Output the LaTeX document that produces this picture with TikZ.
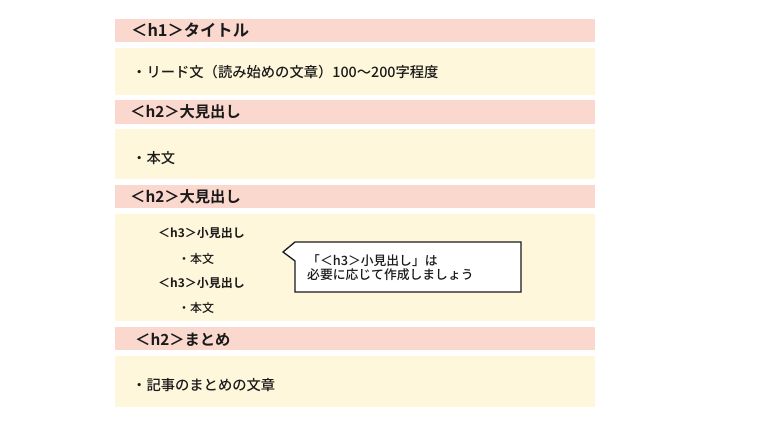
\documentclass[tikz,border=0pt]{standalone}
\usepackage{fontspec}
\newfontfamily\jpb{Noto Sans CJK JP Bold}
\newfontfamily\jpm{Noto Sans CJK JP Medium}
\definecolor{pinkbar}{HTML}{FBD8CE}
\definecolor{creambox}{HTML}{FEF7DC}
\definecolor{inkc}{HTML}{1A1A1A}
\begin{document}
\begin{tikzpicture}[x=1pt,y=-1pt,
  hbar/.style={fill=pinkbar},
  cbox/.style={fill=creambox},
  txt/.style={anchor=west,inner sep=0pt,text=inkc,text height=0.86em,text depth=0.12em},
  hone/.style={txt,font=\jpb\fontsize{16.3}{18}\selectfont},
  htwo/.style={txt,font=\jpb\fontsize{15.3}{18}\selectfont},
  hthree/.style={txt,font=\jpb\fontsize{12}{14}\selectfont},
  body/.style={txt,font=\jpm\fontsize{14.3}{16}\selectfont},
  smallbody/.style={txt,font=\jpm\fontsize{12}{14}\selectfont},
  callout/.style={draw=inkc,line width=1.3pt,fill=white,line join=miter},
  note/.style={anchor=north west,inner sep=0pt,text=inkc,align=left,font=\jpm\fontsize{12.8}{14.5}\selectfont}]
\useasboundingbox (0,0) rectangle (760,427);
\fill[white] (0,0) rectangle (760,427);
% bars
\path[hbar] (115,19) rectangle (595,42);
\path[cbox] (115,48) rectangle (595,95);
\path[hbar] (115,100) rectangle (595,124);
\path[cbox] (115,129) rectangle (595,179);
\path[hbar] (115,185) rectangle (595,208);
\path[cbox] (115,214) rectangle (595,321);
\path[hbar] (115,327) rectangle (595,350);
\path[cbox] (115,356) rectangle (595,407);
% texts
\node[hone] (h1) at (131,33) {＜h1＞タイトル};
\node[body] (lead) at (132,74) {・リード文（読み始めの文章）100〜200字程度};
\node[htwo] (h2a) at (130,114) {＜h2＞大見出し};
\node[body] (b1) at (132,160) {・本文};
\node[htwo] (h2b) at (130,199) {＜h2＞大見出し};
\node[hthree] (h3a) at (158,234) {＜h3＞小見出し};
\node[smallbody] (b2) at (178,260) {・本文};
\node[hthree] (h3b) at (158,284) {＜h3＞小見出し};
\node[smallbody] (b3) at (178,309) {・本文};
\node[htwo] (h2c) at (135,342) {＜h2＞まとめ};
\node[body] (b4) at (132,387) {・記事のまとめの文章};
% callout
\draw[callout] (295,242) -- (521,242) -- (521,292) -- (295,292) -- (295,261) -- (283,252) -- cycle;
\node[note] (nt) at (307,254) {「＜h3＞小見出し」は\\必要に応じて作成しましょう};
\end{tikzpicture}
\end{document}
